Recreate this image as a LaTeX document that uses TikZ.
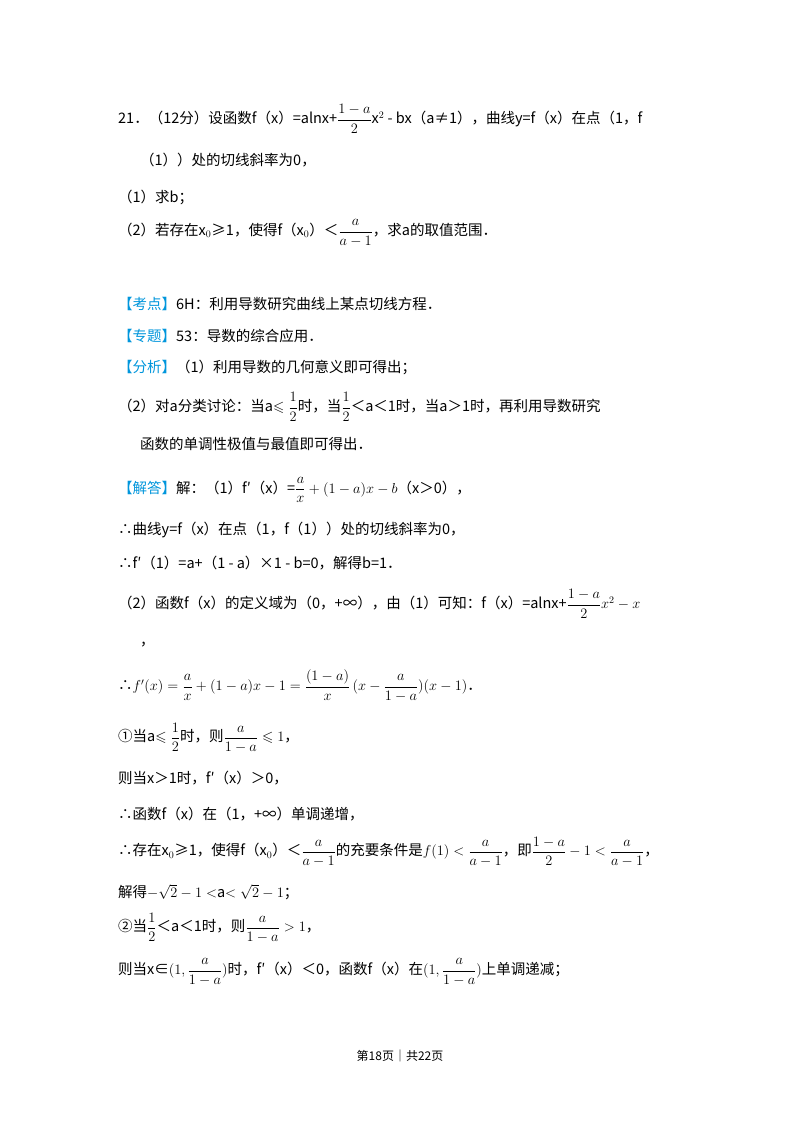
\documentclass[tikz,border=0pt]{standalone}
\usepackage{amsmath,amssymb}
\usepackage{fontspec}
\setmainfont{Noto Sans CJK SC}
\definecolor{kblue}{RGB}{0,150,220}
\begin{document}
\begin{tikzpicture}[x=1pt,y=-1pt,every node/.style={anchor=west,inner sep=0pt,font=\fontsize{14.5}{16}\selectfont}]
\useasboundingbox[fill=white] (0,0) rectangle (800,1132);
\newcommand{\kb}[1]{\textcolor{kblue}{#1}}
\newcommand{\fr}[2]{{\scriptstyle\dfrac{#1}{#2}}}
\node (l1) at (118,119) {21．（12分）设函数f（x）=alnx+$\dfrac{1-a}{2}$x$^2$ - bx（a≠1），曲线y=f（x）在点（1，f};
\node (l2) at (140,160) {（1））处的切线斜率为0，};
\node (l3) at (118,197) {（1）求b；};
\node (l4) at (118,233) {（2）若存在x$_0$≥1，使得f（x$_0$）＜$\dfrac{a}{a-1}$，求a的取值范围．};
\node (l5) at (118,304) {\kb{【考点】}6H：利用导数研究曲线上某点切线方程．};
\node (l6) at (118,336) {\kb{【专题】}53：导数的综合应用．};
\node (l7) at (118,367) {\kb{【分析】}（1）利用导数的几何意义即可得出；};
\node (l8) at (118,407) {（2）对a分类讨论：当a$\leqslant\dfrac12$时，当$\dfrac12$＜a＜1时，当a＞1时，再利用导数研究};
\node (l9) at (140,444) {函数的单调性极值与最值即可得出．};
\node (l10) at (118,490) {\kb{【解答】}解：（1）f′（x）=$\dfrac{a}{x}+(1-a)x-b$（x＞0），};
\node (l11) at (118,530) {∴曲线y=f（x）在点（1，f（1））处的切线斜率为0，};
\node (l12) at (118,563) {∴f′（1）=a+（1 - a）×1 - b=0，解得b=1．};
\node (l13) at (118,604) {（2）函数f（x）的定义域为（0，+∞），由（1）可知：f（x）=alnx+$\dfrac{1-a}{2}x^2-x$};
\node (l14) at (140,645) {，};
\node (l15) at (118,686) {∴$f'(x)=\dfrac{a}{x}+(1-a)x-1=\dfrac{(1-a)}{x}\,(x-\dfrac{a}{1-a})(x-1)$．};
\node (l16) at (118,738) {①当a$\leqslant\dfrac12$时，则$\dfrac{a}{1-a}\leqslant1$，};
\node (l17) at (118,778) {则当x＞1时，f′（x）＞0，};
\node (l18) at (118,814) {∴函数f（x）在（1，+∞）单调递增，};
\node (l19) at (118,852) {∴存在x$_0$≥1，使得f（x$_0$）＜$\dfrac{a}{a-1}$的充要条件是$f(1)<\dfrac{a}{a-1}$，即$\dfrac{1-a}{2}-1<\dfrac{a}{a-1}$，};
\node (l20) at (118,892) {解得$-\sqrt2-1<$a$<\sqrt2-1$；};
\node (l21) at (118,928) {②当$\dfrac12$＜a＜1时，则$\dfrac{a}{1-a}>1$，};
\node (l22) at (118,972) {则当x∈$(1,\dfrac{a}{1-a})$时，f′（x）＜0，函数f（x）在$(1,\dfrac{a}{1-a})$上单调递减；};
\node[anchor=center,font=\fontsize{12}{14}\selectfont] (ft) at (400,1056) {第18页｜共22页};
\end{tikzpicture}
\end{document}
